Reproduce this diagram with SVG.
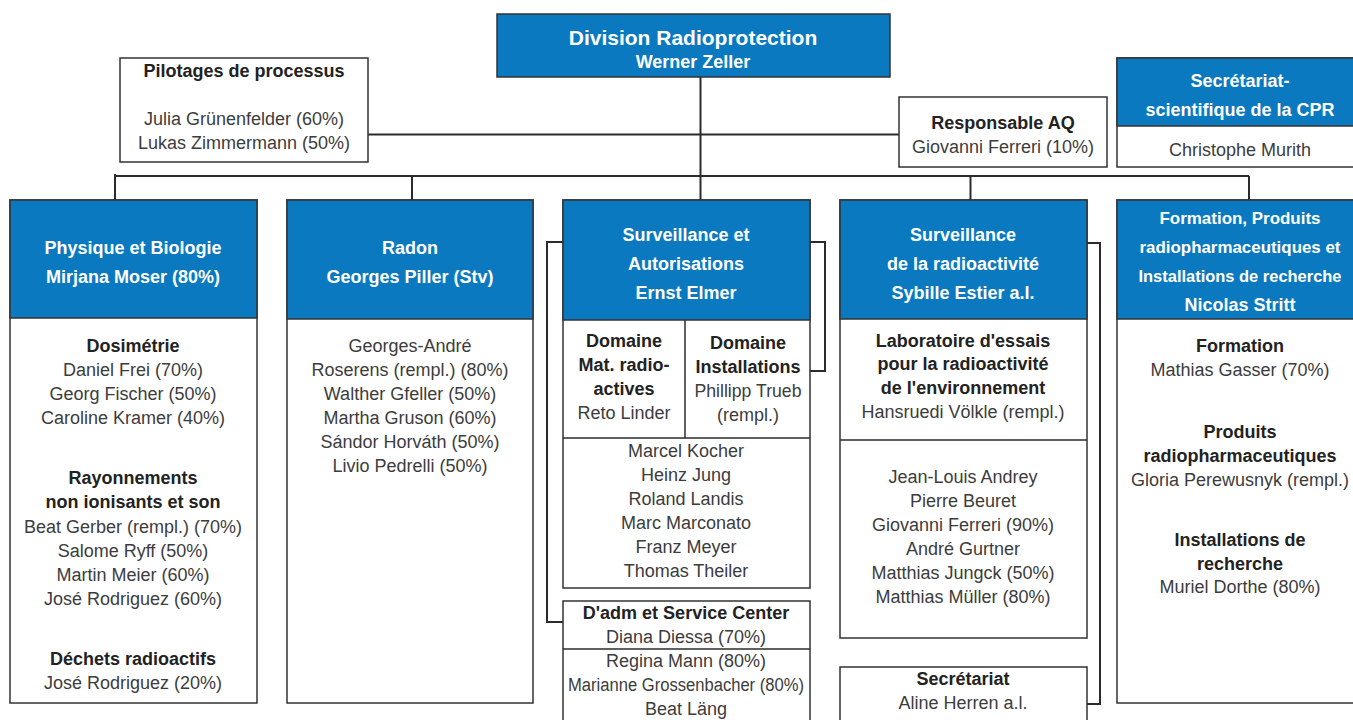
<svg xmlns="http://www.w3.org/2000/svg" width="1353" height="720" viewBox="0 0 1353 720">
<style>
.box{fill:#fff;stroke:#333;stroke-width:1.5}
.blue{fill:#0a79bf;stroke:#333;stroke-width:1.5}
.ln{stroke:#2b2b2b;stroke-width:2;fill:none}
.t{font-family:"Liberation Sans",Arial,sans-serif;font-size:18px;text-anchor:middle;fill:#3c3c3c}
.b{font-weight:bold;fill:#222}
.w{font-weight:bold;fill:#fff}
.c{font-size:16.5px}
</style>
<rect width="1353" height="720" fill="#fff"/>
<g id="connectors">
<path class="ln" d="M700.5 77V200M368 134.5H899M115 174V200M115 176H1249M412 176V200M970.5 176V200M1249 176V200"/>
<path class="ln" d="M563 242H547V622H563M810 242H825V371H810M1087 243H1100V704H1087"/>
</g>
<g id="division">
<rect class="blue" x="497" y="14" width="393" height="63"/>
<text class="t w" x="693" y="45" style="font-size:21px">Division Radioprotection</text>
<text class="t w" x="693" y="68">Werner Zeller</text>
</g>
<g id="pilotages">
<rect class="box" x="120" y="58" width="248" height="104"/>
<text class="t b" x="244" y="77">Pilotages de processus</text>
<text class="t" x="244" y="125">Julia Grünenfelder (60%)</text>
<text class="t" x="244" y="149">Lukas Zimmermann (50%)</text>
</g>
<g id="aq">
<rect class="box" x="899" y="97" width="208" height="70"/>
<text class="t b" x="1003" y="129">Responsable AQ</text>
<text class="t" x="1003" y="153">Giovanni Ferreri (10%)</text>
</g>
<g id="cpr">
<rect class="box" x="1117" y="58" width="246" height="109"/>
<rect class="blue" x="1117" y="58" width="246" height="68"/>
<text class="t w" x="1240" y="87">Secrétariat-</text>
<text class="t w" x="1240" y="116">scientifique de la CPR</text>
<text class="t" x="1240" y="156">Christophe Murith</text>
</g>
<g id="physique">
<rect class="box" x="10" y="200" width="247" height="503"/>
<rect class="blue" x="10" y="200" width="247" height="118"/>
<text class="t w" x="133" y="254">Physique et Biologie</text>
<text class="t w" x="133" y="283">Mirjana Moser (80%)</text>
<text class="t b" x="133" y="352">Dosimétrie</text>
<text class="t" x="133" y="376">Daniel Frei (70%)</text>
<text class="t" x="133" y="400">Georg Fischer (50%)</text>
<text class="t" x="133" y="424">Caroline Kramer (40%)</text>
<text class="t b" x="133" y="484">Rayonnements</text>
<text class="t b" x="133" y="508">non ionisants et son</text>
<text class="t" x="133" y="533">Beat Gerber (rempl.) (70%)</text>
<text class="t" x="133" y="557">Salome Ryff (50%)</text>
<text class="t" x="133" y="581">Martin Meier (60%)</text>
<text class="t" x="133" y="605">José Rodriguez (60%)</text>
<text class="t b" x="133" y="665">Déchets radioactifs</text>
<text class="t" x="133" y="689">José Rodriguez (20%)</text>
</g>
<g id="radon">
<rect class="box" x="287" y="200" width="246" height="503"/>
<rect class="blue" x="287" y="200" width="246" height="119"/>
<text class="t w" x="410" y="254">Radon</text>
<text class="t w" x="410" y="283">Georges Piller (Stv)</text>
<text class="t" x="410" y="352">Georges-André</text>
<text class="t" x="410" y="376">Roserens (rempl.) (80%)</text>
<text class="t" x="410" y="400">Walther Gfeller (50%)</text>
<text class="t" x="410" y="424">Martha Gruson (60%)</text>
<text class="t" x="410" y="448">Sándor Horváth (50%)</text>
<text class="t" x="410" y="472">Livio Pedrelli (50%)</text>
</g>
<g id="surveillance-autorisations">
<rect class="box" x="563" y="200" width="247" height="388"/>
<rect class="blue" x="563" y="200" width="247" height="120"/>
<text class="t w" x="686" y="241">Surveillance et</text>
<text class="t w" x="686" y="270">Autorisations</text>
<text class="t w" x="686" y="299">Ernst Elmer</text>
<path class="ln" style="stroke-width:1.5" d="M685 320V438M563 438H810"/>
<text class="t b" x="624" y="347">Domaine</text>
<text class="t b" x="624" y="371">Mat. radio-</text>
<text class="t b" x="624" y="395">actives</text>
<text class="t" x="624" y="419">Reto Linder</text>
<text class="t b" x="748" y="349">Domaine</text>
<text class="t b" x="748" y="373">Installations</text>
<text class="t" x="748" y="397" textLength="107" lengthAdjust="spacingAndGlyphs">Phillipp Trueb</text>
<text class="t" x="748" y="421">(rempl.)</text>
<text class="t" x="686" y="457">Marcel Kocher</text>
<text class="t" x="686" y="481">Heinz Jung</text>
<text class="t" x="686" y="505">Roland Landis</text>
<text class="t" x="686" y="529">Marc Marconato</text>
<text class="t" x="686" y="553">Franz Meyer</text>
<text class="t" x="686" y="577">Thomas Theiler</text>
</g>
<g id="adm">
<rect class="box" x="563" y="601" width="247" height="129"/>
<path class="ln" style="stroke-width:1.5" d="M563 649H810"/>
<text class="t b" x="686" y="619">D'adm et Service Center</text>
<text class="t" x="686" y="643">Diana Diessa (70%)</text>
<text class="t" x="686" y="667">Regina Mann (80%)</text>
<text class="t" x="686" y="691" textLength="236" lengthAdjust="spacingAndGlyphs">Marianne Grossenbacher (80%)</text>
<text class="t" x="686" y="715">Beat Läng</text>
</g>
<g id="surveillance-radioactivite">
<rect class="box" x="840" y="200" width="247" height="438"/>
<rect class="blue" x="840" y="200" width="247" height="119"/>
<text class="t w" x="963" y="241">Surveillance</text>
<text class="t w" x="963" y="270">de la radioactivité</text>
<text class="t w" x="963" y="299">Sybille Estier a.l.</text>
<path class="ln" style="stroke-width:1.5" d="M840 440H1087"/>
<text class="t b" x="963" y="347">Laboratoire d'essais</text>
<text class="t b" x="963" y="370">pour la radioactivité</text>
<text class="t b" x="963" y="394">de l'environnement</text>
<text class="t" x="963" y="418">Hansruedi Völkle (rempl.)</text>
<text class="t" x="963" y="483">Jean-Louis Andrey</text>
<text class="t" x="963" y="507">Pierre Beuret</text>
<text class="t" x="963" y="531">Giovanni Ferreri (90%)</text>
<text class="t" x="963" y="555">André Gurtner</text>
<text class="t" x="963" y="579">Matthias Jungck (50%)</text>
<text class="t" x="963" y="603">Matthias Müller (80%)</text>
</g>
<g id="secretariat">
<rect class="box" x="840" y="667" width="247" height="63"/>
<text class="t b" x="963" y="685">Secrétariat</text>
<text class="t" x="963" y="709">Aline Herren a.l.</text>
</g>
<g id="formation">
<rect class="box" x="1117" y="200" width="246" height="503"/>
<rect class="blue" x="1117" y="200" width="246" height="119"/>
<text class="t w c" x="1240" y="224" textLength="161" lengthAdjust="spacingAndGlyphs">Formation, Produits</text>
<text class="t w c" x="1240" y="253" textLength="201" lengthAdjust="spacingAndGlyphs">radiopharmaceutiques et</text>
<text class="t w c" x="1240" y="282" textLength="203" lengthAdjust="spacingAndGlyphs">Installations de recherche</text>
<text class="t w" x="1240" y="311">Nicolas Stritt</text>
<text class="t b" x="1240" y="352">Formation</text>
<text class="t" x="1240" y="376">Mathias Gasser (70%)</text>
<text class="t b" x="1240" y="438">Produits</text>
<text class="t b" x="1240" y="462">radiopharmaceutiques</text>
<text class="t" x="1240" y="486">Gloria Perewusnyk (rempl.)</text>
<text class="t b" x="1240" y="546">Installations de</text>
<text class="t b" x="1240" y="570">recherche</text>
<text class="t" x="1240" y="593">Muriel Dorthe (80%)</text>
</g>
</svg>
